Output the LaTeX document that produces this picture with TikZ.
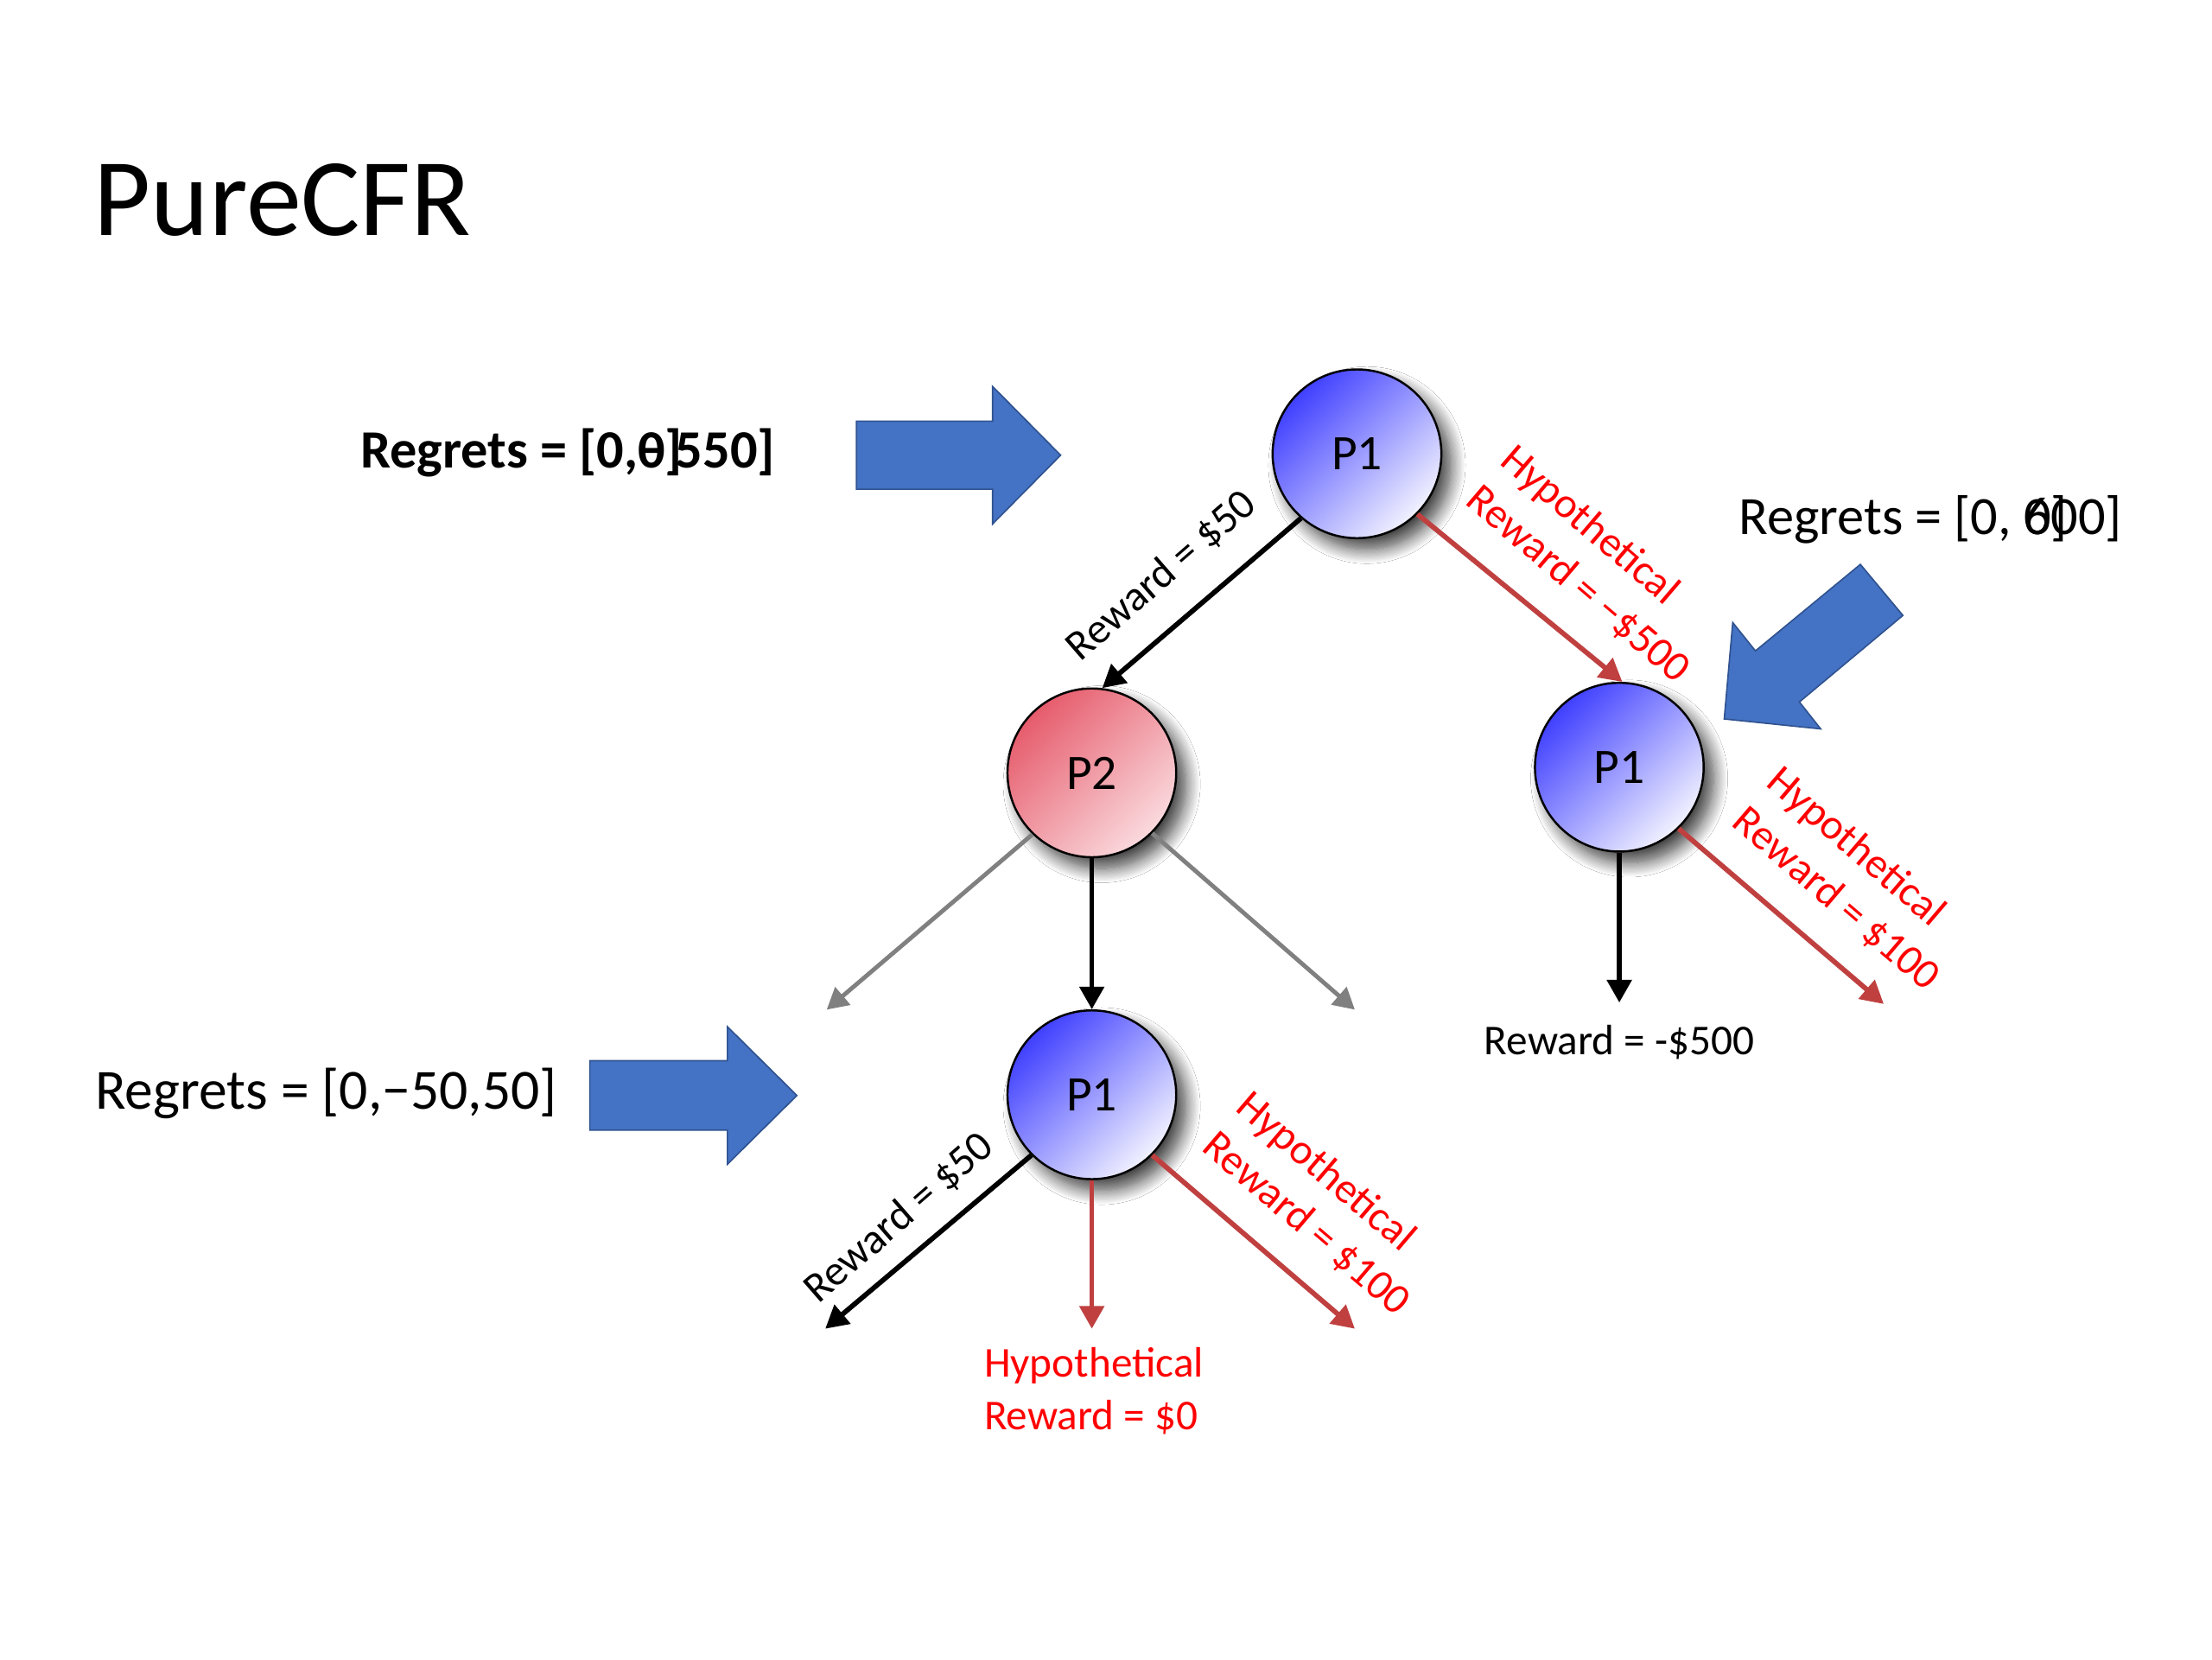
\documentclass[tikz,border=0pt]{standalone}
\usepackage{fontspec}
\setmainfont{Carlito}
\usetikzlibrary{arrows.meta,shadows.blur}
\definecolor{arrowblue}{RGB}{68,114,196}
\definecolor{arrowblueedge}{RGB}{47,82,143}
\definecolor{edgered}{RGB}{192,64,64}
\definecolor{edgegray}{RGB}{128,128,128}
\definecolor{ponedark}{RGB}{64,64,255}
\definecolor{ponelight}{RGB}{242,242,255}
\definecolor{ptwodark}{RGB}{230,92,108}
\definecolor{ptwolight}{RGB}{250,218,222}
\definecolor{labelred}{RGB}{255,0,0}
\begin{document}
\begin{tikzpicture}[x=1pt,y=-1pt,
  player/.style={circle, draw=black, line width=1.5pt, minimum size=119pt, inner sep=0pt,
    font=\fontsize{35}{42}\selectfont,
    blur shadow={shadow xshift=7pt, shadow yshift=-8pt, shadow blur radius=10pt, shadow blur steps=14, shadow opacity=75}},
  ponenode/.style={player, top color=ponedark, bottom color=ponelight, shading angle=45},
  ptwonode/.style={player, top color=ptwodark, bottom color=ptwolight, shading angle=45},
  blackedge/.style={draw=black, line width=3.5pt, -{Triangle[length=16pt,width=17pt]}},
  rededge/.style={draw=edgered, line width=3.5pt, -{Triangle[length=16pt,width=17pt]}},
  grayedge/.style={draw=edgegray, line width=3pt, -{Triangle[length=15pt,width=16pt]}},
  blacklabel/.style={inner sep=0pt, font=\fontsize{30}{37}\selectfont, text=black},
  redlabel/.style={inner sep=0pt, font=\fontsize{30}{37}\selectfont, text=labelred, align=left},
  regbold/.style={inner sep=0pt, anchor=base west, font=\fontsize{38}{46}\selectfont\bfseries},
  regplain/.style={inner sep=0pt, anchor=base west, font=\fontsize{38}{46}\selectfont},
  regbig/.style={inner sep=0pt, anchor=base west, font=\fontsize{40}{48}\selectfont},
  bluearrow/.style={fill=arrowblue, draw=arrowblueedge, line width=1pt, line join=miter}
]
\useasboundingbox (0,0) rectangle (1560,1170);
\fill[white] (0,0) rectangle (1560,1170);

% title
\node[inner sep=0pt, anchor=base west, font=\fontsize{78}{90}\selectfont] (title) at (66,166) {PureCFR};

% block arrows
\draw[bluearrow] (604,297) -- (700,297) -- (700,272.5) -- (748,321) -- (700,369.5) -- (700,345) -- (604,345) -- cycle;
\draw[bluearrow] (416,748) -- (513,748) -- (513,724) -- (562,772.5) -- (513,821) -- (513,797) -- (416,797) -- cycle;
\draw[bluearrow] (1312,398) -- (1342,434) -- (1269,495) -- (1284,514) -- (1216,507) -- (1222,439) -- (1238,459) -- cycle;

% regrets texts (the overlapping glyphs are as printed in the picture)
\node[regbold] (rgA) at (254,330) {Regrets = [0,\rlap{0]}−\kern0.2em 550]};
\node[regplain] (rgB) at (1226,377) {Regrets = [0, \rlap{0]}600]};
\node[regbig] (rgC) at (67,782) {Regrets = [0,−50,50]};

% player nodes
\node[ponenode] (top) at (957,320) {P1};
\node[ptwonode] (ptwo) at (770,545) {P2};
\node[ponenode] (right) at (1142,541) {P1};
\node[ponenode] (bottom) at (770,772) {P1};

% free ends
\coordinate (gl) at (583,712);
\coordinate (gr) at (955.5,712);
\coordinate (rb) at (1142,707);
\coordinate (rr) at (1328.5,708);
\coordinate (bl) at (582,937);
\coordinate (bm) at (770,937);
\coordinate (br) at (955.5,937);

% connectors
\draw[blackedge] (top.-131) -- (ptwo.83);
\draw[rededge] (top.-45) -- (right.88);
\draw[grayedge] (ptwo.-134) -- (gl);
\draw[grayedge] (ptwo.-45) -- (gr);
\draw[blackedge] (ptwo.south) -- (bottom.north);
\draw[blackedge] (right.south) -- (rb);
\draw[rededge] (right.-46) -- (rr);
\draw[blackedge] (bottom.-135) -- (bl);
\draw[rededge] (bottom.south) -- (bm);
\draw[rededge] (bottom.-45) -- (br);

% edge labels
\node[blacklabel, rotate=41] (lab1) at (819,406) {Reward = \$50};
\node[blacklabel, rotate=41] (lab2) at (634,859) {Reward = \$50};
\node[blacklabel] (lab3) at (1142,735) {Reward = -\$500};
\node[redlabel, rotate=-40.5] (lab4) at (1125,398) {Hypothetical\\Reward = −\$500};
\node[redlabel, rotate=-40.5] (lab5) at (1307,620) {Hypothetical\\Reward = \$100};
\node[redlabel, rotate=-40.5] (lab6) at (933,849) {Hypothetical\\Reward = \$100};
\node[redlabel] (lab7) at (771.5,981) {Hypothetical\\Reward = \$0};
\end{tikzpicture}
\end{document}
